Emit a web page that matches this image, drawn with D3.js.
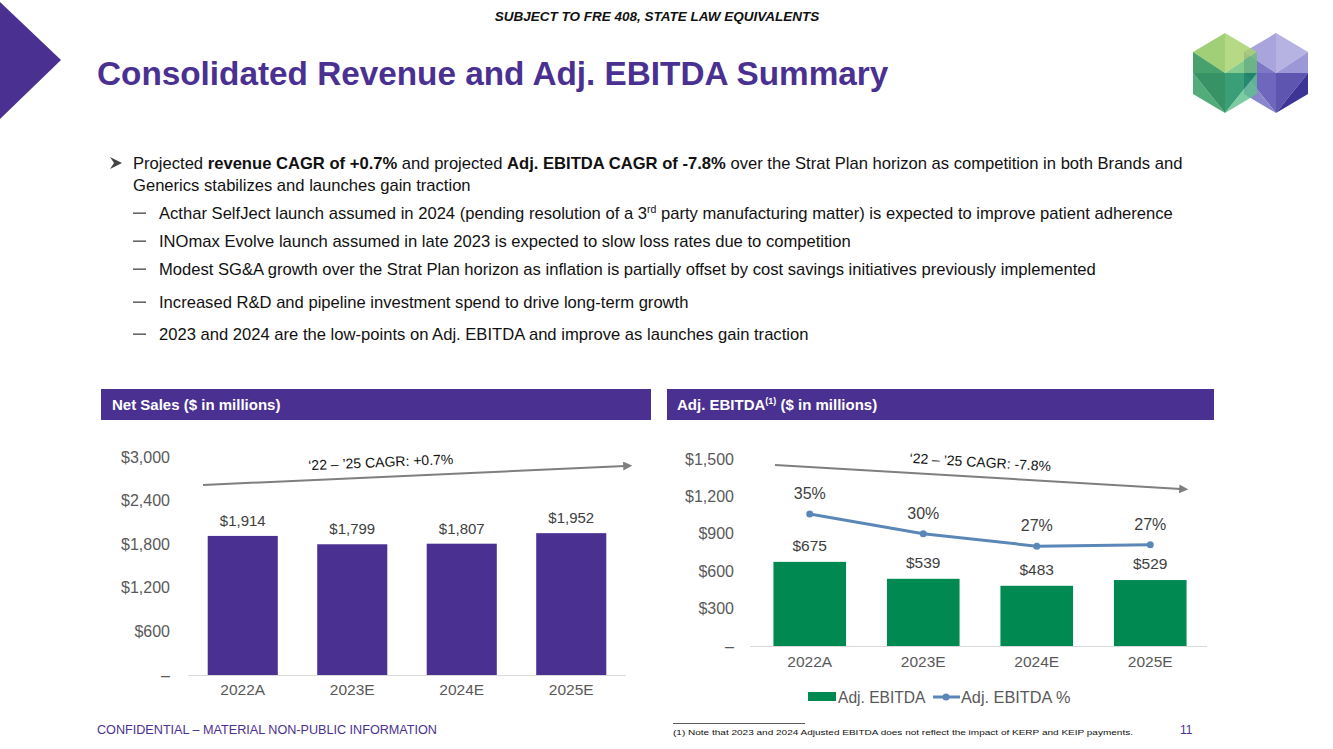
<!DOCTYPE html>
<html>
<head>
<meta charset="utf-8">
<script src="https://cdn.jsdelivr.net/npm/d3@7"></script>
<style>
  html, body { margin: 0; padding: 0; background: #fff; }
  svg { display: block; font-family: "Liberation Sans", Arial, sans-serif; }
</style>
</head>
<body>
<svg id="chart" width="1333" height="749"></svg>
<script>
// ---------- data ----------
const categories = ["2022A", "2023E", "2024E", "2025E"];
const netSales = [1914, 1799, 1807, 1952];
const ebitda = [675, 539, 483, 529];
const ebitdaPct = [0.353, 0.300, 0.267, 0.271];
const pctLabels = ["35%", "30%", "27%", "27%"];
const salesTicks = [0, 600, 1200, 1800, 2400, 3000];
const ebitdaTicks = [0, 300, 600, 900, 1200, 1500];
const salesCagr = "‘22 – ’25 CAGR: +0.7%";
const ebitdaCagr = "‘22 – ’25 CAGR: -7.8%";

const PURPLE = "#4a3191";
const GREEN = "#008a52";
const LINEBLUE = "#5b87b8";
const TICK = "#595959";

const svg = d3.select("#chart");

// ---------- page decorations ----------
svg.append("polygon").attr("points", "0,2 61,60 0,119").attr("fill", PURPLE);

svg.append("text").attr("x", 657).attr("y", 21).attr("text-anchor", "middle")
  .attr("font-size", 13.5).attr("font-weight", "bold").attr("font-style", "italic")
  .attr("fill", "#111").text("SUBJECT TO FRE 408, STATE LAW EQUIVALENTS");

svg.append("text").attr("x", 97).attr("y", 85)
  .attr("font-size", 33.3).attr("font-weight", "bold").attr("fill", PURPLE)
  .text("Consolidated Revenue and Adj. EBITDA Summary");

// logo: two overlapping isometric cubes
function cube(g, cx, colors, op) {
  const w = 32, top = 33, y1 = 52, y2 = 94, bot = 113, cy = 73;
  const T = [cx, top], UR = [cx + w, y1], LR = [cx + w, y2], B = [cx, bot],
        LL = [cx - w, y2], UL = [cx - w, y1], C = [cx, cy];
  const M1 = [cx - w, (y1 + y2) / 2], M2 = [cx + w, (y1 + y2) / 2];
  const tris = [
    [T, UR, C], [T, C, UL],
    [UL, C, M1], [M1, C, B], [M1, B, LL],
    [C, UR, M2], [C, M2, B], [M2, LR, B]
  ];
  tris.forEach((t, i) => {
    g.append("polygon").attr("points", t.map(p => p.join(",")).join(" "))
      .attr("fill", colors[i]).attr("opacity", op);
  });
}
const logo = svg.append("g");
cube(logo, 1276, ["#b6b2e2", "#a9a4dc", "#7d78c6", "#6e67bd", "#8a86cc", "#9c97d6", "#5d55b0", "#3c3596"], 1);
cube(logo, 1225, ["#a6d16b", "#8cc45a", "#1d8c4d", "#0b7a43", "#2c9a5d", "#6abf77", "#0f8a5a", "#5fbf8f"], 0.82);

// ---------- bullets ----------
const bullets = svg.append("g").attr("font-size", 16.6).attr("fill", "#111");
bullets.append("polygon").attr("points", "110,157 122,163 110,169 114,163").attr("fill", "#444");
const l1 = bullets.append("text").attr("x", 133).attr("y", 169);
l1.append("tspan").text("Projected ");
l1.append("tspan").attr("font-weight", "bold").text("revenue CAGR of +0.7%");
l1.append("tspan").text(" and projected ");
l1.append("tspan").attr("font-weight", "bold").text("Adj. EBITDA CAGR of -7.8%");
l1.append("tspan").text(" over the Strat Plan horizon as competition in both Brands and");
bullets.append("text").attr("x", 133).attr("y", 191).text("Generics stabilizes and launches gain traction");

const subLines = [
  null,
  "INOmax Evolve launch assumed in late 2023 is expected to slow loss rates due to competition",
  "Modest SG&A growth over the Strat Plan horizon as inflation is partially offset by cost savings initiatives previously implemented",
  "Increased R&D and pipeline investment spend to drive long-term growth",
  "2023 and 2024 are the low-points on Adj. EBITDA and improve as launches gain traction"
];
const subY = [219, 247, 275, 308, 340];
subY.forEach((y, i) => {
  bullets.append("rect").attr("x", 133).attr("y", y - 6.5).attr("width", 13).attr("height", 1.3).attr("fill", "#444");
  const t = bullets.append("text").attr("x", 159).attr("y", y);
  if (i === 0) {
    t.append("tspan").text("Acthar SelfJect launch assumed in 2024 (pending resolution of a 3");
    t.append("tspan").attr("font-size", 10.5).attr("dy", -6).text("rd");
    t.append("tspan").attr("dy", 6).text(" party manufacturing matter) is expected to improve patient adherence");
  } else {
    t.text(subLines[i]);
  }
});

// ---------- panel headers ----------
svg.append("rect").attr("x", 101).attr("y", 389).attr("width", 550).attr("height", 31).attr("fill", PURPLE);
svg.append("text").attr("x", 112).attr("y", 410).attr("font-size", 15).attr("font-weight", "bold")
  .attr("fill", "#fff").text("Net Sales ($ in millions)");
svg.append("rect").attr("x", 667).attr("y", 389).attr("width", 547).attr("height", 31).attr("fill", PURPLE);
const h2 = svg.append("text").attr("x", 677).attr("y", 410).attr("font-size", 15).attr("font-weight", "bold").attr("fill", "#fff");
h2.append("tspan").text("Adj. EBITDA");
h2.append("tspan").attr("font-size", 9).attr("dy", -6).text("(1)");
h2.append("tspan").attr("dy", 6).text(" ($ in millions)");

const fmtMoney = d => d === 0 ? "–" : "$" + d3.format(",")(d);

function styleAxis(size) {
  return g => {
    g.select(".domain").remove();
    g.selectAll("text").attr("font-size", size).attr("fill", TICK)
      .attr("font-family", "Liberation Sans, Arial, sans-serif");
  };
}

function arrow(g, x1, y1, x2, y2, label, lx, ly, angle) {
  g.append("line").attr("x1", x1).attr("y1", y1).attr("x2", x2).attr("y2", y2)
    .attr("stroke", "#7f7f7f").attr("stroke-width", 2).attr("marker-end", "url(#arr)");
  g.append("text").attr("transform", `translate(${lx},${ly}) rotate(${angle})`)
    .attr("text-anchor", "middle").attr("font-size", 14).attr("fill", "#111").text(label);
}

svg.append("defs").append("marker").attr("id", "arr").attr("viewBox", "0 0 10 10")
  .attr("refX", 2).attr("refY", 5).attr("markerWidth", 4.5).attr("markerHeight", 4.5)
  .attr("orient", "auto").attr("markerUnits", "strokeWidth")
  .append("path").attr("d", "M0,0 L10,5 L0,10 z").attr("fill", "#7f7f7f");

// ---------- left chart: net sales ----------
const xL = d3.scaleBand().domain(categories).range([188, 626]).paddingInner(0.36).paddingOuter(0.18);
const yL = d3.scaleLinear().domain([0, 3000]).range([675, 457]);
const left = svg.append("g");

left.append("g").attr("transform", "translate(176,0)")
  .call(d3.axisLeft(yL).tickValues(salesTicks).tickFormat(fmtMoney).tickSize(0).tickPadding(6))
  .call(styleAxis(16));

left.selectAll("rect.bar").data(netSales).join("rect").attr("class", "bar")
  .attr("x", (d, i) => xL(categories[i])).attr("width", xL.bandwidth())
  .attr("y", d => yL(d)).attr("height", d => yL(0) - yL(d)).attr("fill", PURPLE);

left.append("line").attr("x1", 188).attr("x2", 626).attr("y1", 675.5).attr("y2", 675.5)
  .attr("stroke", "#d9d9d9").attr("stroke-width", 1);
left.append("g").attr("transform", "translate(0,675)")
  .call(d3.axisBottom(xL).tickSize(0).tickPadding(9)).call(styleAxis(15.5));

left.selectAll("text.val").data(netSales).join("text").attr("class", "val")
  .attr("x", (d, i) => xL(categories[i]) + xL.bandwidth() / 2).attr("y", d => yL(d) - 10)
  .attr("text-anchor", "middle").attr("font-size", 15).attr("fill", "#404040")
  .text(d => "$" + d3.format(",")(d));

arrow(left, 203, 485, 625, 466, salesCagr, 381, 467, -2.5);

// ---------- right chart: adj. EBITDA ----------
const xR = d3.scaleBand().domain(categories).range([753, 1207]).paddingInner(0.36).paddingOuter(0.18);
const yR = d3.scaleLinear().domain([0, 1500]).range([646, 459]);
const yP = d3.scaleLinear().domain([0, 0.5]).range([646, 459]);
const right = svg.append("g");

right.append("g").attr("transform", "translate(740,0)")
  .call(d3.axisLeft(yR).tickValues(ebitdaTicks).tickFormat(fmtMoney).tickSize(0).tickPadding(6))
  .call(styleAxis(16));

right.selectAll("rect.bar").data(ebitda).join("rect").attr("class", "bar")
  .attr("x", (d, i) => xR(categories[i])).attr("width", xR.bandwidth())
  .attr("y", d => yR(d)).attr("height", d => yR(0) - yR(d)).attr("fill", GREEN);

right.append("line").attr("x1", 750).attr("x2", 1207).attr("y1", 646.5).attr("y2", 646.5)
  .attr("stroke", "#d9d9d9").attr("stroke-width", 1);
right.append("g").attr("transform", "translate(0,646)")
  .call(d3.axisBottom(xR).tickSize(0).tickPadding(10)).call(styleAxis(15.5));

right.selectAll("text.val").data(ebitda).join("text").attr("class", "val")
  .attr("x", (d, i) => xR(categories[i]) + xR.bandwidth() / 2).attr("y", d => yR(d) - 11)
  .attr("text-anchor", "middle").attr("font-size", 15.5).attr("fill", "#404040")
  .text(d => "$" + d);

const cx = i => xR(categories[i]) + xR.bandwidth() / 2;
right.append("path").datum(ebitdaPct)
  .attr("d", d3.line().x((d, i) => cx(i)).y(d => yP(d)))
  .attr("fill", "none").attr("stroke", LINEBLUE).attr("stroke-width", 3);
right.selectAll("circle.pt").data(ebitdaPct).join("circle").attr("class", "pt")
  .attr("cx", (d, i) => cx(i)).attr("cy", d => yP(d)).attr("r", 3.5).attr("fill", LINEBLUE);
right.selectAll("text.pct").data(ebitdaPct).join("text").attr("class", "pct")
  .attr("x", (d, i) => cx(i)).attr("y", d => yP(d) - 15)
  .attr("text-anchor", "middle").attr("font-size", 16).attr("fill", "#404040")
  .text((d, i) => pctLabels[i]);

arrow(right, 775, 465, 1181, 489, ebitdaCagr, 980, 467, 3.3);

// legend
const lg = right.append("g");
lg.append("rect").attr("x", 808).attr("y", 692).attr("width", 28).attr("height", 9).attr("fill", GREEN);
lg.append("text").attr("x", 838).attr("y", 703).attr("font-size", 15.6).attr("fill", TICK).text("Adj. EBITDA");
lg.append("line").attr("x1", 933).attr("x2", 960).attr("y1", 697).attr("y2", 697)
  .attr("stroke", LINEBLUE).attr("stroke-width", 3);
lg.append("circle").attr("cx", 946).attr("cy", 697).attr("r", 3.5).attr("fill", LINEBLUE);
lg.append("text").attr("x", 961).attr("y", 703).attr("font-size", 16.3).attr("fill", TICK).text("Adj. EBITDA %");

// ---------- footer ----------
svg.append("text").attr("x", 97).attr("y", 734).attr("font-size", 12)
  .attr("font-family", "Liberation Sans Narrow, Liberation Sans, Arial, sans-serif")
  .attr("textLength", 340).attr("lengthAdjust", "spacingAndGlyphs")
  .attr("fill", PURPLE).text("CONFIDENTIAL – MATERIAL NON-PUBLIC INFORMATION");
svg.append("line").attr("x1", 673).attr("x2", 805).attr("y1", 723.5).attr("y2", 723.5)
  .attr("stroke", "#333").attr("stroke-width", 0.8);
svg.append("text").attr("x", 673).attr("y", 735).attr("font-size", 8)
  .attr("font-family", "Liberation Sans Narrow, Liberation Sans, Arial, sans-serif")
  .attr("textLength", 460).attr("lengthAdjust", "spacingAndGlyphs")
  .attr("fill", "#111").text("(1)    Note that 2023 and 2024 Adjusted EBITDA does not reflect the impact of KERP and KEIP payments.");
svg.append("text").attr("x", 1180).attr("y", 734).attr("font-size", 12)
  .attr("fill", PURPLE).text("11");
</script>
</body>
</html>
